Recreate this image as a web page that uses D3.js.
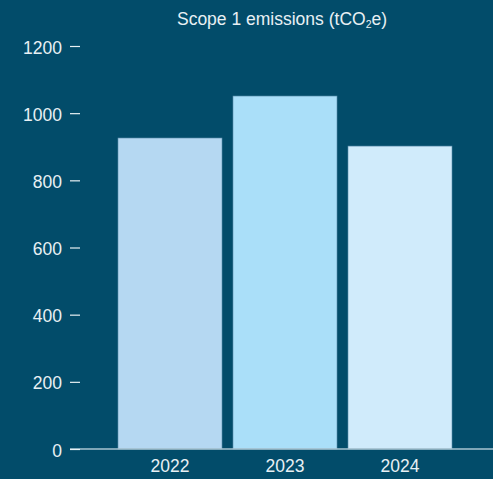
<!DOCTYPE html>
<html>
<head>
<meta charset="utf-8">
<script src="https://cdn.jsdelivr.net/npm/d3@7/dist/d3.min.js"></script>
<style>
  html, body { margin: 0; padding: 0; background: #024c6a; }
  svg { display: block; font-family: "Liberation Sans", Arial, sans-serif; }
</style>
</head>
<body>
<svg id="chart" width="493" height="479"></svg>
<script>
// data
var years = ["2022", "2023", "2024"];
var emissions = [926, 1051, 902];
var barColors = ["#b5d8f2", "#aadff9", "#d0ebfb"];
var yTicks = [0, 200, 400, 600, 800, 1000, 1200];

var width = 493, height = 479;
var svg = d3.select("#chart");

svg.append("rect")
    .attr("width", width)
    .attr("height", height)
    .attr("fill", "#024c6a");

var x = d3.scaleBand()
    .domain(years)
    .range([107, 463])
    .paddingInner(0.0957)
    .paddingOuter(0.0957);

var y = d3.scaleLinear()
    .domain([0, 1200])
    .range([449, 46]);

// bars
svg.append("g").selectAll("rect")
    .data(emissions)
    .enter()
    .append("rect")
    .attr("x", function(d, i){ return x(years[i]); })
    .attr("y", function(d){ return y(d); })
    .attr("width", x.bandwidth())
    .attr("height", function(d){ return y(0) - y(d); })
    .attr("fill", function(d, i){ return barColors[i]; })
    .attr("stroke", "#5e90ad")
    .attr("stroke-width", 0.6);

// baseline
svg.append("line")
    .attr("x1", 70).attr("x2", width)
    .attr("y1", y(0)).attr("y2", y(0))
    .attr("stroke", "#a9c4d2")
    .attr("stroke-width", 1.5);

// y axis
var yAxis = svg.append("g")
    .attr("transform", "translate(80,0)")
    .call(d3.axisLeft(y).tickValues(yTicks).tickSize(10).tickPadding(8).tickFormat(d3.format("d")));
yAxis.select(".domain").remove();
yAxis.selectAll(".tick line").attr("stroke", "#e8f0f4").attr("stroke-width", 1.2);
yAxis.selectAll(".tick text")
    .attr("fill", "#e8f0f4")
    .attr("dy", "0.4em")
    .style("font-size", "17.5px")
    .style("font-family", "Liberation Sans, Arial, sans-serif");

// x axis labels
var xAxis = svg.append("g")
    .attr("transform", "translate(0," + y(0) + ")")
    .call(d3.axisBottom(x).tickSize(0).tickPadding(11));
xAxis.select(".domain").remove();
xAxis.selectAll(".tick text")
    .attr("fill", "#e8f0f4")
    .style("font-size", "17.5px")
    .style("font-family", "Liberation Sans, Arial, sans-serif");

// title
var title = svg.append("text")
    .attr("x", 282)
    .attr("y", 25)
    .attr("text-anchor", "middle")
    .attr("fill", "#e8f0f4")
    .style("font-size", "17.5px");
title.append("tspan").text("Scope 1 emissions (tCO");
title.append("tspan").attr("dy", 3).style("font-size", "10.5px").text("2");
title.append("tspan").attr("dy", -3).text("e)");
</script>
</body>
</html>
